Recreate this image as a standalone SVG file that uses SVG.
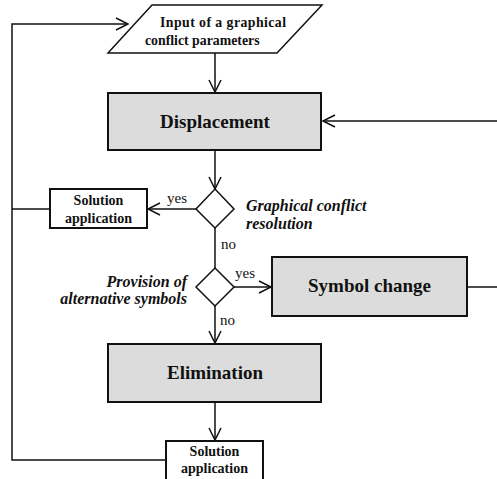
<svg xmlns="http://www.w3.org/2000/svg" width="497" height="479" viewBox="0 0 497 479">
  <style>
    .bg { fill: #ffffff; }
    .proc { fill: #dcdcdc; stroke: #111; stroke-width: 2; }
    .plain { fill: #ffffff; stroke: #111; stroke-width: 2; }
    .dec { fill: #ffffff; stroke: #111; stroke-width: 1.5; }
    .io { fill: #ffffff; stroke: #111; stroke-width: 1.5; }
    .wire { fill: none; stroke: #111; stroke-width: 1.5; }
    .big { font-size: 19px; font-weight: bold; text-anchor: middle; }
    .small { font-size: 14px; font-weight: bold; text-anchor: middle; }
    .io-t { font-size: 13.8px; font-weight: bold; }
    .q { font-size: 16px; font-weight: bold; font-style: italic; }
    .lbl { font-size: 15px; }
  </style>
  <defs>
    <marker id="open-arrow" markerUnits="userSpaceOnUse" markerWidth="16" markerHeight="16" viewBox="-14 -8 16 16" refX="0" refY="0" orient="auto">
      <path d="M-12,-6 L0,0 L-12,6" fill="none" stroke="#111" stroke-width="1.5"/>
    </marker>
  </defs>
  <rect class="bg" x="0" y="0" width="497" height="479"/>

  <g id="connectors">
    <!-- input to displacement -->
    <line class="wire" x1="215" y1="53" x2="215" y2="92" marker-end="url(#open-arrow)"/>
    <!-- feedback from the right into displacement -->
    <line class="wire" x1="497" y1="121" x2="323" y2="121" marker-end="url(#open-arrow)"/>
    <!-- displacement to first decision -->
    <line class="wire" x1="215" y1="151" x2="215" y2="189" marker-end="url(#open-arrow)"/>
    <!-- yes: solution application -->
    <line class="wire" x1="196" y1="209" x2="148" y2="209" marker-end="url(#open-arrow)"/>
    <!-- no: second decision -->
    <line class="wire" x1="215" y1="228" x2="215" y2="268"/>
    <!-- yes: symbol change -->
    <line class="wire" x1="234" y1="287" x2="271" y2="287" marker-end="url(#open-arrow)"/>
    <!-- symbol change out to the right -->
    <line class="wire" x1="467" y1="287" x2="497" y2="287"/>
    <!-- no: elimination -->
    <line class="wire" x1="215" y1="306" x2="215" y2="343" marker-end="url(#open-arrow)"/>
    <!-- elimination to solution application -->
    <line class="wire" x1="215" y1="403" x2="215" y2="440" marker-end="url(#open-arrow)"/>
    <!-- return loop on the left -->
    <polyline class="wire" points="166,460 12,460 12,24 128,24" marker-end="url(#open-arrow)"/>
    <line class="wire" x1="50" y1="209" x2="12" y2="209"/>
  </g>

  <g font-family="'Liberation Serif', 'Times New Roman', Tinos, serif" fill="#111">
    <g id="input">
      <polygon class="io" points="152,5 322,5 277,53 108,53"/>
      <text class="io-t" x="160" y="27" textLength="126" lengthAdjust="spacing">Input of a graphical</text>
      <text class="io-t" x="145" y="45">conflict parameters</text>
    </g>

    <g id="displacement">
      <rect class="proc" x="108" y="93" width="213" height="57"/>
      <text class="big" x="215" y="128">Displacement</text>
    </g>

    <g id="decision-resolution">
      <polygon class="dec" points="215,189 234,209 215,228 196,209"/>
      <text class="q" x="246" y="211">Graphical conflict</text>
      <text class="q" x="246" y="229">resolution</text>
      <text class="lbl" x="167" y="203">yes</text>
      <text class="lbl" x="221" y="249">no</text>
    </g>

    <g id="solution-1">
      <rect class="plain" x="50" y="189" width="97" height="39"/>
      <text class="small" x="98.5" y="205">Solution</text>
      <text class="small" x="98.5" y="223">application</text>
    </g>

    <g id="decision-symbols">
      <polygon class="dec" points="215,268 234,287 215,306 196,287"/>
      <text class="q" x="187" y="287" text-anchor="end">Provision of</text>
      <text class="q" x="187" y="304" text-anchor="end">alternative symbols</text>
      <text class="lbl" x="235" y="278">yes</text>
      <text class="lbl" x="220" y="325">no</text>
    </g>

    <g id="symbol-change">
      <rect class="proc" x="272" y="257" width="195" height="59"/>
      <text class="big" x="369.5" y="292">Symbol change</text>
    </g>

    <g id="elimination">
      <rect class="proc" x="108" y="344" width="213" height="58"/>
      <text class="big" x="215" y="379">Elimination</text>
    </g>

    <g id="solution-2">
      <rect class="plain" x="166" y="441" width="97" height="50"/>
      <text class="small" x="214.5" y="456">Solution</text>
      <text class="small" x="214.5" y="473">application</text>
    </g>
  </g>
</svg>
